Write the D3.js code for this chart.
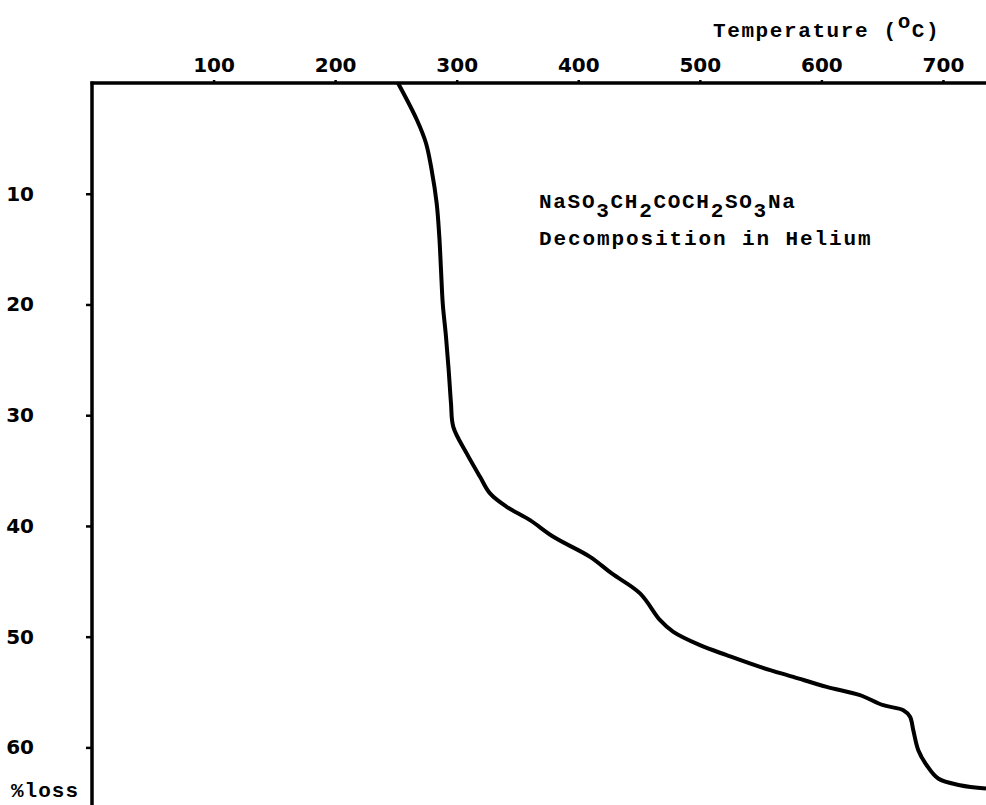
<!DOCTYPE html>
<html>
<head>
<meta charset="utf-8">
<script src="https://cdn.jsdelivr.net/npm/d3@7"></script>
<style>
  html, body { margin: 0; padding: 0; background: #fff; }
  svg { display: block; }
  .mono { font-family: "Liberation Mono", "Courier New", monospace; font-weight: bold; font-size: 21px; letter-spacing: 1.6px; fill: #000; }
  .tick text { font-family: "DejaVu Sans", sans-serif; font-weight: bold; font-size: 20px; fill: #000; }
</style>
</head>
<body>
<script>
// ---- data ----
const tempTicks = [100, 200, 300, 400, 500, 600, 700];
const lossTicks = [10, 20, 30, 40, 50, 60];
const curveTemp = [251.7, 267.3, 274.7, 279.4, 283.5, 285.7, 287.1, 288.5, 291.2, 293.4, 295.3, 297.2,
  308.2, 319.2, 327.4, 341.1, 360.3, 379.5, 409.7, 427.5, 450.8, 467.3, 478.2, 500.1, 522.1, 549.5,
  576.9, 604.3, 631.7, 650.9, 667.4, 672.9, 675.6, 679.7, 686.6, 696.1, 714.0, 735.4];
const curveLoss = [0, 3.34, 5.42, 7.86, 10.84, 13.88, 16.89, 19.87, 22.92, 25.93, 28.91, 31.05,
  33.45, 35.56, 37.06, 38.27, 39.48, 40.98, 42.79, 44.29, 46.09, 48.51, 49.57, 50.77, 51.67, 52.73,
  53.63, 54.53, 55.28, 56.19, 56.64, 57.24, 58.45, 60.25, 61.61, 62.81, 63.41, 63.71];

const W = 986, H = 805;
const svg = d3.select("body").append("svg").attr("width", W).attr("height", H);

const x = d3.scaleLinear().domain([0, 735.4]).range([92, 986]);
const y = d3.scaleLinear().domain([0, 65.2]).range([83, 805]);

// top axis
const xAxis = d3.axisTop(x).tickValues(tempTicks).tickSize(3).tickPadding(8).tickFormat(d3.format("d"));
const gx = svg.append("g").attr("transform", `translate(0,${y(0)})`).call(xAxis);
gx.select(".domain").remove();
gx.selectAll(".tick line").attr("stroke", "#000").attr("stroke-width", 2.5);
svg.append("line").attr("x1", x(0) - 1.5).attr("x2", W).attr("y1", y(0)).attr("y2", y(0))
  .attr("stroke", "#000").attr("stroke-width", 3.5);

// left axis
const yAxis = d3.axisLeft(y).tickValues(lossTicks).tickSize(6).tickPadding(52).tickFormat(d3.format("d"));
const gy = svg.append("g").attr("transform", `translate(${x(0)},0)`).call(yAxis);
gy.select(".domain").remove();
gy.selectAll(".tick line").attr("stroke", "#000").attr("stroke-width", 2.5);
gy.selectAll(".tick text").attr("text-anchor", "end");
svg.append("line").attr("x1", x(0)).attr("x2", x(0)).attr("y1", y(0) - 1.5).attr("y2", H)
  .attr("stroke", "#000").attr("stroke-width", 3.5);

// curve
const pts = curveTemp.map((t, i) => [t, curveLoss[i]]);
const line = d3.line().x(d => x(d[0])).y(d => y(d[1])).curve(d3.curveCatmullRom.alpha(0.5));
svg.append("path").datum(pts).attr("d", line).attr("fill", "none")
  .attr("stroke", "#000").attr("stroke-width", 4).attr("stroke-linejoin", "round");

// axis title
const title = svg.append("text").attr("class", "mono").attr("x", 713).attr("y", 37);
title.append("tspan").text("Temperature (");
title.append("tspan").attr("dy", -9).text("o");
title.append("tspan").attr("dy", 9).text("C)");

svg.append("text").attr("class", "mono").attr("x", 11).attr("y", 797)
  .style("letter-spacing", "1.0px").text("%loss");

// annotation
const f = svg.append("text").attr("class", "mono").attr("x", 539).attr("y", 208)
  .style("letter-spacing", "1.7px");
const parts = [["NaSO", 0], ["3", 9], ["CH", -9], ["2", 9], ["COCH", -9], ["2", 9], ["SO", -9], ["3", 9], ["Na", -9]];
parts.forEach(p => f.append("tspan").attr("dy", p[1]).text(p[0]));

svg.append("text").attr("class", "mono").attr("x", 539).attr("y", 245)
  .style("letter-spacing", "1.9px").text("Decomposition in Helium");
</script>
</body>
</html>
